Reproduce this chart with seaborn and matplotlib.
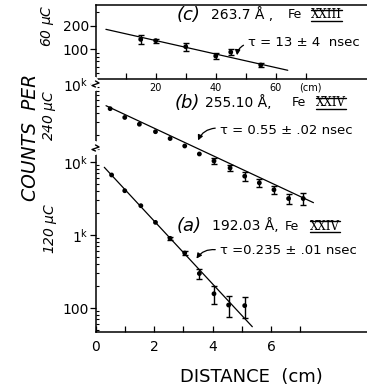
import numpy as np
import pandas as pd
import matplotlib
matplotlib.use("Agg")
import matplotlib.pyplot as plt
from matplotlib.lines import Line2D
from matplotlib.ticker import FixedLocator, NullFormatter
import seaborn as sns

# (c) 263.7 A, Fe XXIII  (top panel, distance in cm on the 0-90 scale, counts per 60 uC)
c_x = [15, 20, 30, 40, 45, 55]
c_y = [134, 129, 108, 82, 92, 63]
c_err = [17, 8, 13, 7, 8, 4]
c_fit_x = [3.4, 64]
c_fit_y = [180, 54]

# (b) 255.10 A, Fe XXIV  (counts per 240 uC)
b_x = [0.5, 1.0, 1.5, 2.05, 2.55, 3.05, 3.55, 4.05, 4.6, 5.1, 5.6, 6.1, 6.6, 7.1]
b_y = [4590, 3480, 2810, 2220, 1790, 1415, 1100, 881, 707, 546, 443, 356, 270, 270]
b_err = [0, 0, 0, 0, 0, 0, 0, 80, 65, 70, 57, 46, 43, 52]
b_fit_x = [0.36, 7.45]
b_fit_y = [5040, 237]

# (a) 192.03 A, Fe XXIV  (counts per 120 uC)
a_x = [0.55, 1.0, 1.55, 2.05, 2.55, 3.05, 3.55, 4.05, 4.55, 5.1]
a_y = [6640, 4040, 2520, 1490, 901, 567, 297, 157, 110, 108]
a_err = [0, 0, 0, 0, 40, 35, 50, 45, 35, 35]
a_fit_x = [0.30, 5.36]
a_fit_y = [8460, 55.5]

B_SHIFT = 11.7   # (b) drawn on its own broken scale above (a)

sns.set_style("ticks")
plt.rcParams['font.family'] = ['DejaVu Sans']
plt.rcParams['mathtext.default'] = 'regular'
plt.rcParams.update({'text.color': 'black', 'axes.edgecolor': 'black',
                     'xtick.color': 'black', 'ytick.color': 'black',
                     'axes.labelcolor': 'black'})

W, H = 367, 389
fig = plt.figure(figsize=(W / 100, H / 100), dpi=100)

def px(x, y):
    return x / W, 1 - y / H

# ---- lower panel (a) + (b)  (added first so the top panel's tick labels stay visible)
ax = fig.add_axes([95.5 / W, 1 - 332 / H, 1 - 95.5 / W, 252 / H])
ax.patch.set_alpha(0)
ax.set_yscale('log')
ax.set_xlim(0, 9.28)
ax.set_ylim(47, 132600)

sns.lineplot(x=a_fit_x, y=a_fit_y, ax=ax, color='black', lw=0.9)
sns.lineplot(x=b_fit_x, y=np.array(b_fit_y) * B_SHIFT, ax=ax, color='black', lw=0.9)
for xs, ys, es, k in [(a_x, a_y, a_err, 1), (b_x, b_y, b_err, B_SHIFT)]:
    e = [(x, y * k, er * k) for x, y, er in zip(xs, ys, es) if er > 0]
    ax.errorbar([t[0] for t in e], [t[1] for t in e], yerr=[t[2] for t in e],
                fmt='none', ecolor='black', elinewidth=1, capsize=2.5)
sns.scatterplot(x=a_x, y=a_y, ax=ax, color='black', s=12, edgecolor='none')
sns.scatterplot(x=b_x, y=np.array(b_y) * B_SHIFT, ax=ax, color='black', s=12, edgecolor='none')

ax.xaxis.set_major_locator(FixedLocator(range(8)))
ax.set_xticklabels(['0', '', '2', '', '4', '', '6', ''], fontsize=10)
ax.yaxis.set_major_locator(FixedLocator([100, 1000, 10000, 10000 * B_SHIFT]))
ax.set_yticklabels(['100', '1$^{k}$', '10$^{k}$', '10$^{k}$'], fontsize=10)
minor = [m * d for d in [10, 100, 1000] for m in range(2, 10) if 47 <= m * d <= 10000]
minor += [15000]
minor += [m * 1000 * B_SHIFT for m in range(2, 10)]
ax.yaxis.set_minor_locator(FixedLocator(minor))
ax.yaxis.set_minor_formatter(NullFormatter())
ax.tick_params(axis='x', direction='in', length=4, pad=6, width=0.9)
ax.tick_params(axis='y', which='major', direction='out', length=4, pad=1, width=0.9)
ax.tick_params(axis='y', which='minor', direction='in', length=2.5, width=0.8)
ax.spines['top'].set_visible(False)
ax.spines['right'].set_visible(False)
for s in ['left', 'bottom']:
    ax.spines[s].set_linewidth(1.1)
ax.set_xlabel('')
ax.set_ylabel('')

# ---- top panel (c)
axc = fig.add_axes([95.7 / W, 1 - 79 / H, 1 - 95.7 / W, 74 / H])
axc.patch.set_alpha(0)
axc.set_yscale('log')
axc.set_xlim(0, 90.4)
axc.set_ylim(41.8, 368)
sns.lineplot(x=c_fit_x, y=c_fit_y, ax=axc, color='black', lw=0.9)
ce = [(x, y, e) for x, y, e in zip(c_x, c_y, c_err) if e > 0]
axc.errorbar([t[0] for t in ce], [t[1] for t in ce], yerr=[t[2] for t in ce],
             fmt='none', ecolor='black', elinewidth=1, capsize=2.5)
sns.scatterplot(x=c_x, y=c_y, ax=axc, color='black', s=12, edgecolor='none')
axc.xaxis.set_major_locator(FixedLocator([10, 20, 30, 40, 50, 60, 70]))
axc.set_xticklabels(['', '20', '', '40', '', '60', ''], fontsize=7)
axc.yaxis.set_major_locator(FixedLocator([100, 200]))
axc.set_yticklabels(['100', '200'], fontsize=10)
axc.yaxis.set_minor_locator(FixedLocator([50, 60, 70, 80, 90, 300]))
axc.yaxis.set_minor_formatter(NullFormatter())
axc.tick_params(axis='x', direction='in', length=4, pad=3, width=0.9)
axc.tick_params(axis='y', which='major', direction='out', length=4, pad=1, width=0.9)
axc.tick_params(axis='y', which='minor', direction='in', length=2.5, width=0.8)
axc.spines['right'].set_visible(False)
for s in ['top', 'left', 'bottom']:
    axc.spines[s].set_linewidth(1.1)

# broken-axis squiggles on the left spine
for yb in [84, 148]:
    xs = [95.5, 95.5, 99, 92, 95.5, 95.5]
    ys = [yb - 5, yb - 3, yb - 1, yb + 1.5, yb + 3, yb + 5]
    fig.add_artist(Line2D([x / W for x in xs], [1 - y / H for y in ys],
                          transform=fig.transFigure, color='white', lw=3))
    fig.add_artist(Line2D([x / W for x in xs[1:-1]], [1 - y / H for y in ys[1:-1]],
                          transform=fig.transFigure, color='black', lw=1))

# ---- axis titles
fig.text(*px(30, 137), 'COUNTS  PER', rotation=90, fontsize=13.5, style='italic',
         ha='center', va='center')
fig.text(*px(48, 26), '60 $\\mu$C', rotation=90, fontsize=10, style='italic',
         ha='center', va='center')
fig.text(*px(49, 115), '240 $\\mu$C', rotation=90, fontsize=10, style='italic',
         ha='center', va='center')
fig.text(*px(50, 228), '120 $\\mu$C', rotation=90, fontsize=10, style='italic',
         ha='center', va='center')
fig.text(*px(251, 377), 'DISTANCE  (cm)', fontsize=13, ha='center', va='center')
fig.text(*px(310, 88), '(cm)', fontsize=7, ha='center', va='center')

# ---- panel labels
roman = []
def label(y, letter, xl, body, xb, xfe, num, xn):
    fig.text(*px(xl, y), '(' + letter + ')', fontsize=13, style='italic', ha='left', va='center')
    fig.text(*px(xb, y), body, fontsize=10, ha='left', va='center')
    fig.text(*px(xfe, y), 'Fe', fontsize=9, ha='left', va='center')
    roman.append((fig.text(*px(xn, y), num, fontsize=8.5, family='serif',
                           ha='left', va='center'), y))

label(15, 'c', 177, '263.7 Å ,', 211, 288, 'XXIII', 311)
label(103, 'b', 175, '255.10 Å,', 205, 292, 'XXIV', 316)
label(226, 'a', 177, '192.03 Å,', 212, 285, 'XXIV', 310)

fig.text(*px(248, 43), 'τ = 13 ± 4  nsec', fontsize=9.5, ha='left', va='center')
fig.text(*px(220, 130), 'τ = 0.55 ± .02 nsec', fontsize=9.5, ha='left', va='center')
fig.text(*px(220, 250), 'τ =0.235 ± .01 nsec', fontsize=9.5, ha='left', va='center')

for tail, head in [((246, 44), (237, 58)), ((218, 128), (197, 143)), ((218, 250), (195, 261))]:
    fig.add_artist(matplotlib.patches.FancyArrowPatch(
        px(*tail), px(*head), transform=fig.transFigure,
        connectionstyle='arc3,rad=0.35', arrowstyle='-|>,head_length=3,head_width=1.5',
        color='black', lw=0.9))

fig.canvas.draw()
r = fig.canvas.get_renderer()
for t, y in roman:
    bb = t.get_window_extent(r)
    for dy in [-5.5, 5.5]:
        fig.add_artist(Line2D([bb.x0 / W, bb.x1 / W], [1 - (y + dy) / H] * 2,
                              transform=fig.transFigure, color='black', lw=1))

fig.savefig('out.png', dpi=100)
